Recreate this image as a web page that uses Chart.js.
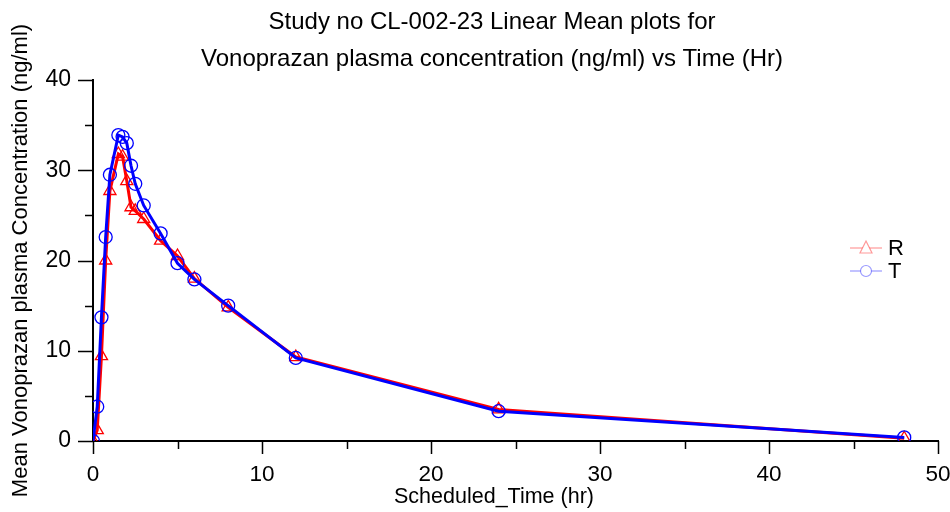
<!DOCTYPE html>
<html>
<head>
<meta charset="utf-8">
<script src="https://cdn.jsdelivr.net/npm/chart.js@4/dist/chart.umd.min.js"></script>
<style>
  html, body { margin: 0; padding: 0; background: #fff; }
  #wrap { width: 950px; height: 512px; }
</style>
</head>
<body>
<div id="wrap"><canvas id="pkChart" width="950" height="512"></canvas></div>
<script>
// Data
const times = [0, 0.25, 0.5, 0.75, 1, 1.5, 1.75, 2, 2.25, 2.5, 3, 4, 5, 6, 8, 12, 24, 48];
const concR = [0, 1.2, 9.4, 20.0, 27.7, 31.8, 31.5, 28.8, 25.9, 25.5, 24.6, 22.2, 20.5, 18.0, 14.8, 9.3, 3.5, 0.3];
const concT = [0, 3.8, 13.7, 22.6, 29.5, 33.9, 33.7, 33.0, 30.5, 28.5, 26.1, 23.0, 19.7, 17.9, 15.0, 9.2, 3.3, 0.4];

const titleLines = ['Study no CL-002-23 Linear Mean plots for', 'Vonoprazan plasma concentration (ng/ml) vs Time (Hr)'];
const xTitle = 'Scheduled_Time (hr)';
const xTicks = [0, 10, 20, 30, 40, 50];
const yTicks = [0, 10, 20, 30, 40];

const FONT = '"Liberation Sans", Arial, sans-serif';

function toPoints(ys) {
    return times.map((t, i) => ({ x: t, y: ys[i] }));
}

// Title, x title, tick marks and legend drawn on the canvas
const decor = {
    id: 'decor',
    afterDraw(chart) {
        const c = chart.ctx;
        const xs = chart.scales.x, ys = chart.scales.y;
        c.save();
        c.fillStyle = '#000';
        c.font = '24px ' + FONT;
        c.textAlign = 'center';
        c.textBaseline = 'middle';
        c.fillText(titleLines[0], 492, 22);
        c.fillText(titleLines[1], 492, 59);

        c.font = '21.5px ' + FONT;
        c.fillText(xTitle, 494, 497);

        // ticks (major + minor)
        c.strokeStyle = '#000';
        c.lineWidth = 1.5;
        c.beginPath();
        for (let v = 0; v <= 50; v += 5) {
            const px = Math.round(xs.getPixelForValue(v)) + 0.5;
            const len = v % 10 === 0 ? 13 : 8;
            c.moveTo(px, xs.top);
            c.lineTo(px, xs.top + len);
        }
        for (let v = 0; v <= 40; v += 5) {
            const py = Math.round(ys.getPixelForValue(v)) + 0.5;
            const len = v % 10 === 0 ? 15 : 8;
            c.moveTo(ys.right, py);
            c.lineTo(ys.right - len, py);
        }
        c.stroke();

        // legend
        const items = [
            { label: 'R', color: 'rgba(255,0,0,0.4)', style: 'triangle', y: 248 },
            { label: 'T', color: 'rgba(0,0,255,0.4)', style: 'circle', y: 271 }
        ];
        items.forEach(it => {
            c.strokeStyle = it.color;
            c.lineWidth = 1.2;
            c.beginPath();
            c.moveTo(850, it.y);
            c.lineTo(882, it.y);
            c.stroke();
            c.fillStyle = '#fff';
            c.beginPath();
            if (it.style === 'circle') {
                c.arc(866, it.y, 5.5, 0, Math.PI * 2);
            } else {
                c.moveTo(866, it.y - 7);
                c.lineTo(872, it.y + 5);
                c.lineTo(860, it.y + 5);
                c.closePath();
            }
            c.fill();
            c.stroke();
            c.fillStyle = '#000';
            c.font = '22px ' + FONT;
            c.textAlign = 'left';
            c.fillText(it.label, 888, it.y + 1);
        });
        c.restore();
    }
};

new Chart(document.getElementById('pkChart').getContext('2d'), {
    type: 'line',
    data: {
        datasets: [{
            label: 'R',
            data: toPoints(concR),
            borderColor: '#ff0000',
            backgroundColor: 'rgba(0,0,0,0)',
            borderWidth: 3,
            pointStyle: 'triangle',
            pointRadius: 7,
            pointBorderWidth: 1.3,
            pointBorderColor: '#ff0000',
            pointBackgroundColor: 'rgba(0,0,0,0)',
            tension: 0,
            order: 2
        }, {
            label: 'T',
            data: toPoints(concT),
            borderColor: '#0000ff',
            backgroundColor: 'rgba(0,0,0,0)',
            borderWidth: 3,
            pointStyle: 'circle',
            pointRadius: 6.5,
            pointBorderWidth: 1.3,
            pointBorderColor: '#0000ff',
            pointBackgroundColor: 'rgba(0,0,0,0)',
            tension: 0,
            order: 1
        }]
    },
    options: {
        responsive: false,
        animation: false,
        layout: { padding: { top: 80, right: 0, left: 0, bottom: 0 } },
        plugins: {
            legend: { display: false },
            title: { display: false },
            tooltip: { enabled: false }
        },
        scales: {
            x: {
                type: 'linear',
                min: 0,
                max: 50,
                afterFit: s => { s.height = 71; s.paddingLeft = 0; s.paddingRight = 12; },
                afterBuildTicks: s => { s.ticks = xTicks.map(v => ({ value: v })); },
                grid: { display: false },
                border: { display: true, color: '#000', width: 2 },
                ticks: { color: '#000', font: { family: FONT, size: 22.5 }, padding: 12 }
            },
            y: {
                min: 0,
                max: 40,
                afterFit: s => { s.width = 93; },
                afterBuildTicks: s => { s.ticks = yTicks.map(v => ({ value: v })); },
                grid: { display: false },
                border: { display: true, color: '#000', width: 2 },
                ticks: { color: '#000', font: { family: FONT, size: 23 }, padding: 14 },
                title: {
                    display: true,
                    text: 'Mean Vonoprazan plasma Concentration (ng/ml)',
                    color: '#000',
                    font: { family: FONT, size: 22 },
                    padding: { top: 8, bottom: 0 }
                }
            }
        }
    },
    plugins: [decor]
});
</script>
</body>
</html>
